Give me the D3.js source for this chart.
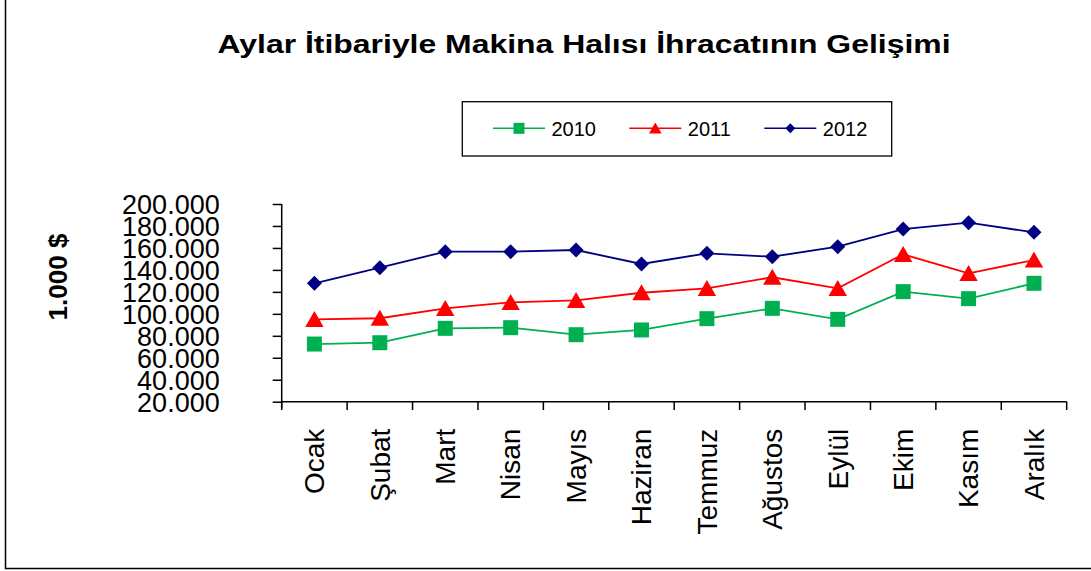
<!DOCTYPE html>
<html>
<head>
<meta charset="utf-8">
<script src="https://cdn.jsdelivr.net/npm/d3@7"></script>
<style>
  body { margin: 0; background: #fff; }
  text { font-family: "Liberation Sans", Arial, sans-serif; }
</style>
</head>
<body>
<div id="chart"></div>
<script>
// data (values in 1.000 $)
const months = ["Ocak", "Şubat", "Mart", "Nisan", "Mayıs", "Haziran", "Temmuz", "Ağustos", "Eylül", "Ekim", "Kasım", "Aralık"];
const years = ["2010", "2011", "2012"];
const v2010 = [72.5, 73.7, 86.8, 87.4, 81.0, 85.3, 95.6, 105.0, 95.0, 120.2, 113.8, 127.8];
const v2011 = [95.0, 96.0, 105.0, 110.5, 112.3, 119.2, 123.2, 133.3, 123.2, 154.2, 136.9, 149.0];
const v2012 = [127.8, 142.0, 156.6, 156.6, 158.1, 145.4, 155.1, 152.0, 161.1, 177.2, 183.0, 174.2];
const yTicks = [20, 40, 60, 80, 100, 120, 140, 160, 180, 200];

const title = "Aylar İtibariyle Makina Halısı İhracatının Gelişimi";
const yTitle = "1.000 $";

const width = 1091, height = 571;
const colors = ["#00B050", "#FF0000", "#000080"];
const shapes = ["square", "triangle", "diamond"];

const svg = d3.select("#chart").append("svg")
    .attr("width", width)
    .attr("height", height);

// outer frame
svg.append("rect")
    .attr("x", 5.5).attr("y", -5)
    .attr("width", 1100).attr("height", 573.5)
    .attr("fill", "none").attr("stroke", "#000").attr("stroke-width", 1.5);

// title
svg.append("text")
    .attr("x", 584).attr("y", 53)
    .attr("text-anchor", "middle")
    .attr("font-size", 26).attr("font-weight", "bold")
    .attr("textLength", 733).attr("lengthAdjust", "spacingAndGlyphs")
    .text(title);

// scales
const x = d3.scaleBand().domain(months).range([281.7, 1066.7]);
const y = d3.scaleLinear().domain([20, 200]).range([401.7, 204]);

// y axis
const yAxis = svg.append("g")
    .attr("transform", "translate(281.7,0)")
    .call(d3.axisLeft(y).tickValues(yTicks).tickSize(9).tickPadding(53)
        .tickFormat(d => d3.format(".3f")(d)));
yAxis.select(".domain").attr("d", "M0,204V408").attr("stroke-width", 1.5);
yAxis.selectAll(".tick line").attr("stroke-width", 1.5);
yAxis.selectAll(".tick text")
    .attr("font-size", 27).attr("fill", "#000")
    .attr("font-family", "Liberation Sans, Arial, sans-serif")
    .attr("dy", "0.36em");

// x axis
const xAxis = svg.append("g")
    .attr("transform", "translate(0,401.7)")
    .call(d3.axisBottom(x).tickSize(0).tickPadding(0));
xAxis.select(".domain").attr("d", "M281.7,0H1066.7").attr("stroke-width", 1.5);
xAxis.selectAll(".tick text")
    .attr("font-size", 28).attr("fill", "#000")
    .attr("font-family", "Liberation Sans, Arial, sans-serif")
    .attr("text-anchor", "end")
    .attr("transform", "translate(0,27) rotate(-90)")
    .attr("dy", "0.35em")
    .attr("x", 0).attr("y", 0);

// x ticks at band edges
const edges = months.map(m => x(m)).concat([x.range()[1]]);
svg.append("g").selectAll("line")
    .data(edges)
    .join("line")
    .attr("x1", d => d).attr("x2", d => d)
    .attr("y1", 401.7).attr("y2", 410)
    .attr("stroke", "#000").attr("stroke-width", 1.5);

// y axis title
svg.append("text")
    .attr("transform", "translate(67,277) rotate(-90)")
    .attr("text-anchor", "middle")
    .attr("font-size", 26).attr("font-weight", "bold")
    .text(yTitle);

function marker(shape, s) {
    if (shape === "square") return `M${-s},${-s}H${s}V${s}H${-s}Z`;
    if (shape === "triangle") return `M0,${-s * 1.05}L${s * 1.15},${s * 0.95}L${-s * 1.15},${s * 0.95}Z`;
    return `M0,${-s}L${s},0L0,${s}L${-s},0Z`;
}

const series = [v2010, v2011, v2012].map((vals, i) => ({
    key: years[i], color: colors[i], shape: shapes[i],
    values: vals.map((v, j) => ({ month: months[j], value: v }))
}));

const line = d3.line()
    .x(d => x(d.month) + x.bandwidth() / 2)
    .y(d => y(d.value));

const sizes = { square: 7.5, triangle: 8, diamond: 7.5 };

const g = svg.append("g").selectAll("g")
    .data(series)
    .join("g");

g.append("path")
    .attr("d", d => line(d.values))
    .attr("fill", "none")
    .attr("stroke", d => d.color)
    .attr("stroke-width", 1.8);

g.each(function(s) {
    d3.select(this).selectAll(".pt")
        .data(s.values)
        .join("path")
        .attr("class", "pt")
        .attr("transform", d => `translate(${x(d.month) + x.bandwidth() / 2},${y(d.value)})`)
        .attr("d", marker(s.shape, sizes[s.shape]))
        .attr("fill", s.color);
});

// legend
const legend = svg.append("g");
legend.append("rect")
    .attr("x", 462.3).attr("y", 101.7)
    .attr("width", 429.4).attr("height", 54.3)
    .attr("fill", "#fff").attr("stroke", "#000").attr("stroke-width", 1.3);

const legendX = [493, 629.3, 764.3];
const legendSizes = { square: 5.5, triangle: 5.5, diamond: 5 };
const items = legend.selectAll(".item")
    .data(series)
    .join("g")
    .attr("class", "item")
    .attr("transform", (d, i) => `translate(${legendX[i]},128.3)`);
items.append("line")
    .attr("x1", 0).attr("x2", 52)
    .attr("stroke", d => d.color).attr("stroke-width", 1.5);
items.append("path")
    .attr("transform", "translate(26,0)")
    .attr("d", d => marker(d.shape, legendSizes[d.shape]))
    .attr("fill", d => d.color);
items.append("text")
    .attr("x", 58.5).attr("dy", "0.36em")
    .attr("font-size", 20)
    .text(d => d.key);
</script>
</body>
</html>
